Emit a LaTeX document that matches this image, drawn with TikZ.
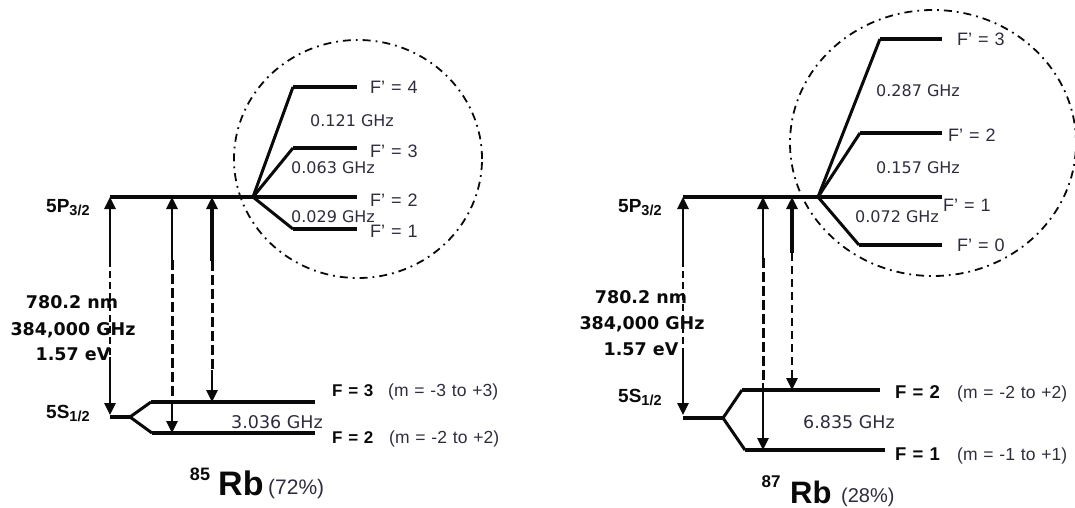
\documentclass[tikz,border=0pt]{standalone}
\usepackage{fontspec}
\setmainfont{Liberation Sans}[WordSpace=1.2]
\newfontfamily\verd{DejaVu Sans}
\usetikzlibrary{arrows.meta}
\definecolor{lab}{RGB}{45,45,62}
\definecolor{ink}{RGB}{10,10,10}
\newcommand\fs[1]{\fontsize{#1}{#1}\selectfont}
\tikzset{
  lev/.style={line width=3.6pt, draw=ink},
  fan/.style={line width=3pt, draw=ink},
  arr/.style={line width=2.6pt, draw=ink},
  thickarr/.style={line width=4.8pt, draw=ink},
  dsh/.style={line width=3pt, draw=ink, dash pattern=on 10pt off 4pt},
  dthin/.style={line width=1.8pt, draw=ink, dash pattern=on 7pt off 4pt},
  uptip/.style={{Triangle[width=11pt,length=12pt]}-},
  downtip/.style={-{Triangle[width=11pt,length=12pt]}},
  ring/.style={line width=1.8pt, draw=ink, dash pattern=on 8pt off 5pt on 1.8pt off 5pt},
  txt/.style={inner sep=0pt, anchor=base west},
  ctxt/.style={inner sep=0pt, anchor=base},
  flab/.style={txt, text=lab, font=\fs{18}},
  ghz/.style={ctxt, text=lab, font=\verd\fs{16}},
  big/.style={ctxt, text=ink, font=\verd\bfseries\fs{17.5}},
  lvl/.style={txt, text=ink, font=\bfseries\fs{19}},
}
\begin{document}
\begin{tikzpicture}[x=1pt,y=-1pt]
\useasboundingbox (0,0) rectangle (1075,508);

% ================= 85Rb (left) =================
\draw[ring] (358,159) ellipse [x radius=124pt, y radius=119pt];

\coordinate (LPa) at (110,197);
\coordinate (LJ)  at (253,197);
\coordinate (LF2e) at (357,197);
\coordinate (LF4c) at (293,87);  \coordinate (LF4e) at (357,87);
\coordinate (LF3c) at (293,148); \coordinate (LF3e) at (357,148);
\coordinate (LF1c) at (293,229); \coordinate (LF1e) at (357,229);
\coordinate (LSa) at (110,417);
\coordinate (LSk) at (130,417);
\coordinate (LG3c) at (151,402); \coordinate (LG3e) at (315,402);
\coordinate (LG2c) at (152,433); \coordinate (LG2e) at (315,433);

\draw[lev] (LPa) -- (LJ) -- (LF2e);
\draw[fan] (LJ) -- (LF4c); \draw[lev] (LF4c) -- (LF4e);
\draw[fan] (LJ) -- (LF3c); \draw[lev] (LF3c) -- (LF3e);
\draw[fan] (LJ) -- (LF1c); \draw[lev] (LF1c) -- (LF1e);
\draw[lev] (LSa) -- (LSk);
\draw[fan] (LSk) -- (LG3c); \draw[lev] (LG3c) -- (LG3e);
\draw[fan] (LSk) -- (LG2c); \draw[lev] (LG2c) -- (LG2e);

\node[lvl] (L5P) at (46,212) {5P\raisebox{-3.5pt}{\fs{14.5}3/2}};
\node[lvl] (L5S) at (46,418) {5S\raisebox{-3.5pt}{\fs{14.5}1/2}};
\node[big] (Le1) at (72,308) {780.2 nm};
\node[big] (Le2) at (73,335) {384,000 GHz};
\node[big] (Le3) at (73,360) {1.57 eV};

\node[flab] (LlF4) at (370,94) {F’ = 4};
\node[flab] (LlF3) at (370,157) {F’ = 3};
\node[flab] (LlF2) at (370,206) {F’ = 2};
\node[flab] (LlF1) at (370,237) {F’ = 1};
\node[ghz] (Lg1) at (352,127) {0.121 GHz};
\node[ghz] (Lg2) at (333,173) {0.063 GHz};
\node[ghz] (Lg3) at (333,222) {0.029 GHz};
\node[ghz, font=\verd\fs{17.5}] (Lg4) at (277,428) {3.036 GHz};

\node[txt, font=\bfseries\fs{17}, text=ink] (LlG3) at (332,396) {F = 3};
\node[txt, font=\fs{17.5}, text=lab] (LmG3) at (388,396) {(m = -3 to +3)};
\node[txt, font=\bfseries\fs{17}, text=ink] (LlG2) at (332,443) {F = 2};
\node[txt, font=\fs{17.5}, text=lab] (LmG2) at (389,443) {(m = -2 to +2)};

\node[ctxt, font=\bfseries\fs{18}, text=ink] (L85) at (200,480) {85};
\node[txt, font=\bfseries\fs{34}, text=ink] (LRb) at (218,495) {Rb};
\node[txt, font=\fs{21}, text=lab] (Lpc) at (268,494) {(72\%)};

\coordinate (A1t) at (110,197); \coordinate (A1a) at (110,260);
\coordinate (A1b) at (110,357); \coordinate (A1e) at (110,415);
\draw[arr, uptip] (A1t) -- (A1a);
\draw[dthin] (A1a) -- (A1b);
\draw[arr, downtip] (A1b) -- (A1e);

\coordinate (A2t) at (172,197); \coordinate (A2a) at (172,260);
\coordinate (A2b) at (172,400); \coordinate (A2e) at (172,433);
\draw[arr, uptip] (A2t) -- (A2a);
\draw[dsh] (A2a) -- (A2b);
\draw[arr, downtip] (A2b) -- (A2e);

\coordinate (A3t) at (212,197); \coordinate (A3a) at (212,261);
\coordinate (A3b) at (212,370); \coordinate (A3e) at (212,402);
\draw[thickarr, uptip] (A3t) -- (A3a);
\draw[dsh] (A3a) -- (A3b);
\draw[arr, downtip] (A3b) -- (A3e);

% ================= 87Rb (right) =================
\draw[ring] (933,143) ellipse [x radius=143pt, y radius=133pt];

\coordinate (RPa) at (683,197);
\coordinate (RJ)  at (818,197);
\coordinate (RF1e) at (942,197);
\coordinate (RF3c) at (880,39);  \coordinate (RF3e) at (942,39);
\coordinate (RF2c) at (860,133); \coordinate (RF2e) at (942,133);
\coordinate (RF0c) at (859,245); \coordinate (RF0e) at (942,245);
\coordinate (RSa) at (683,418);
\coordinate (RSk) at (723,418);
\coordinate (RG2c) at (742,390); \coordinate (RG2e) at (880,390);
\coordinate (RG1c) at (745,450); \coordinate (RG1e) at (885,450);

\draw[lev] (RPa) -- (RJ) -- (RF1e);
\draw[fan] (RJ) -- (RF3c); \draw[lev] (RF3c) -- (RF3e);
\draw[fan] (RJ) -- (RF2c); \draw[lev] (RF2c) -- (RF2e);
\draw[fan] (RJ) -- (RF0c); \draw[lev] (RF0c) -- (RF0e);
\draw[lev] (RSa) -- (RSk);
\draw[fan] (RSk) -- (RG2c); \draw[lev] (RG2c) -- (RG2e);
\draw[fan] (RSk) -- (RG1c); \draw[lev] (RG1c) -- (RG1e);

\node[lvl] (R5P) at (618,212) {5P\raisebox{-3.5pt}{\fs{14.5}3/2}};
\node[lvl] (R5S) at (618,402) {5S\raisebox{-3.5pt}{\fs{14.5}1/2}};
\node[big] (Re1) at (641,303) {780.2 nm};
\node[big] (Re2) at (642,329) {384,000 GHz};
\node[big] (Re3) at (641,355) {1.57 eV};

\node[flab] (RlF3) at (957,46) {F’ = 3};
\node[flab] (RlF2) at (948,141) {F’ = 2};
\node[flab] (RlF1) at (943,211) {F’ = 1};
\node[flab] (RlF0) at (957,251) {F’ = 0};
\node[ghz] (Rg1) at (918,97) {0.287 GHz};
\node[ghz] (Rg2) at (918,173) {0.157 GHz};
\node[ghz] (Rg3) at (897,222) {0.072 GHz};
\node[ghz, font=\verd\fs{17.5}] (Rg4) at (849,428) {6.835 GHz};

\node[txt, font=\bfseries\fs{18.5}, text=ink] (RlG2) at (895,398) {F = 2};
\node[txt, font=\fs{17.5}, text=lab] (RmG2) at (957,398) {(m = -2 to +2)};
\node[txt, font=\bfseries\fs{18.5}, text=ink] (RlG1) at (895,460) {F = 1};
\node[txt, font=\fs{17.5}, text=lab] (RmG1) at (957,460) {(m = -1 to +1)};

\node[ctxt, font=\bfseries\fs{17}, text=ink] (R87) at (771,487) {87};
\node[txt, font=\bfseries\fs{31}, text=ink] (RRb) at (790,503) {Rb};
\node[txt, font=\fs{20}, text=lab] (Rpc) at (841,502) {(28\%)};

\coordinate (B1t) at (683,197); \coordinate (B1a) at (683,260);
\coordinate (B1b) at (683,355); \coordinate (B1e) at (683,415);
\draw[arr, uptip] (B1t) -- (B1a);
\draw[dthin] (B1a) -- (B1b);
\draw[arr, downtip] (B1b) -- (B1e);

\coordinate (B2t) at (763,197); \coordinate (B2a) at (763,258);
\coordinate (B2b) at (763,383); \coordinate (B2e) at (763,450);
\draw[arr, uptip] (B2t) -- (B2a);
\draw[dsh] (B2a) -- (B2b);
\draw[arr, downtip] (B2b) -- (B2e);

\coordinate (B3t) at (792,197); \coordinate (B3a) at (792,253);
\coordinate (B3b) at (792,370); \coordinate (B3e) at (792,390);
\draw[line width=3.4pt, draw=ink, uptip] (B3t) -- (B3a);
\draw[line width=2pt, draw=ink, dash pattern=on 8pt off 5pt] (B3a) -- (B3b);
\draw[arr, downtip] (B3b) -- (B3e);
\end{tikzpicture}
\end{document}
